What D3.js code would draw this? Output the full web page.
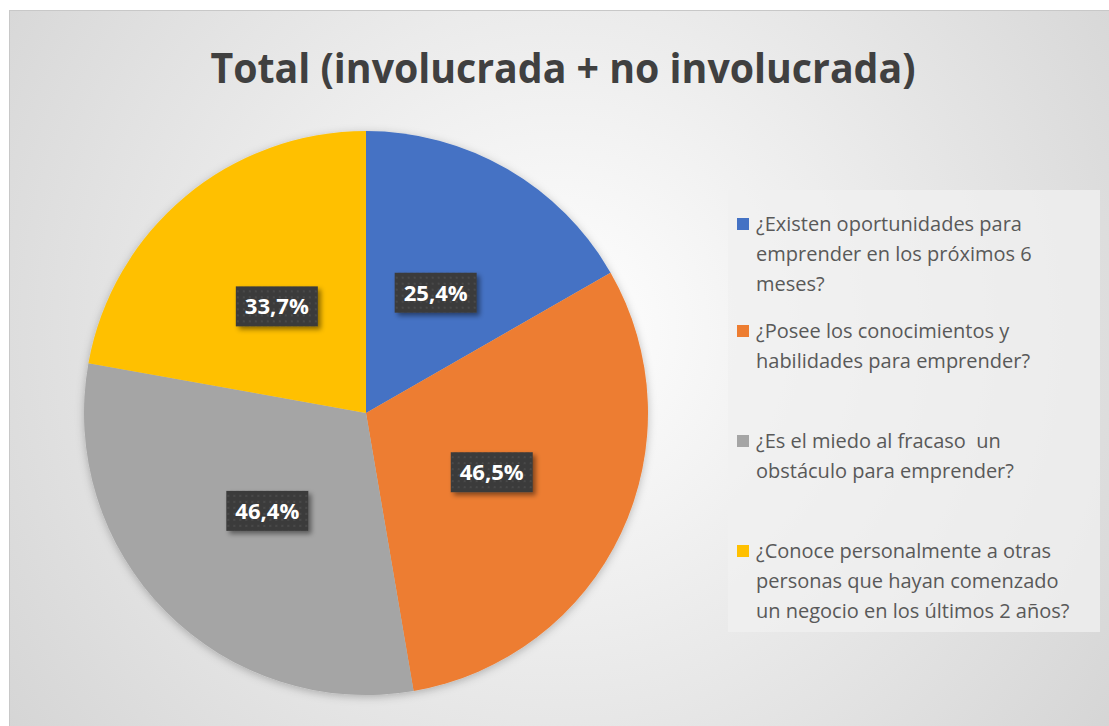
<!DOCTYPE html>
<html>
<head>
<meta charset="utf-8">
<script src="https://cdn.jsdelivr.net/npm/d3@7"></script>
<style>
  body { margin: 0; background: #fff; }
  svg { display: block; }
</style>
</head>
<body>
<svg id="chart" width="1109" height="726"></svg>
<script>
const title = 'Total (involucrada + no involucrada)';
const categories = [
  ['¿Existen oportunidades para', 'emprender en los próximos 6', 'meses?'],
  ['¿Posee los conocimientos y', 'habilidades para emprender?'],
  ['¿Es el miedo al fracaso  un', 'obstáculo para emprender?'],
  ['¿Conoce personalmente a otras', 'personas que hayan comenzado', 'un negocio en los últimos 2 años?']
];
const values = [25.4, 46.5, 46.4, 33.7];
const colors = ['#4472c4', '#ed7d31', '#a5a5a5', '#ffc000'];
const legendTops = [224, 331, 441, 551];

const svg = d3.select('#chart');
const defs = svg.append('defs');

// chart area background
const bg = defs.append('radialGradient').attr('id', 'bg')
  .attr('gradientUnits', 'userSpaceOnUse')
  .attr('cx', 560).attr('cy', 330).attr('r', 700);
bg.append('stop').attr('offset', '0%').attr('stop-color', '#ffffff');
bg.append('stop').attr('offset', '100%').attr('stop-color', '#d4d4d4');

const sh = defs.append('filter').attr('id', 'pieShadow')
  .attr('x', '-10%').attr('y', '-10%').attr('width', '120%').attr('height', '120%');
sh.append('feDropShadow').attr('dx', 0).attr('dy', 2).attr('stdDeviation', 4)
  .attr('flood-color', '#000').attr('flood-opacity', 0.25);

const lsh = defs.append('filter').attr('id', 'labelShadow')
  .attr('x', '-20%').attr('y', '-20%').attr('width', '150%').attr('height', '160%');
lsh.append('feDropShadow').attr('dx', 3).attr('dy', 3).attr('stdDeviation', 2.5)
  .attr('flood-color', '#000').attr('flood-opacity', 0.45);

const dots = defs.append('pattern').attr('id', 'dots')
  .attr('width', 6).attr('height', 6).attr('patternUnits', 'userSpaceOnUse');
dots.append('rect').attr('width', 6).attr('height', 6).attr('fill', '#3b3b3b');
dots.append('circle').attr('cx', 3).attr('cy', 3).attr('r', 0.8).attr('fill', '#5a5a5a');

svg.append('rect')
  .attr('x', 9.5).attr('y', 10.5).attr('width', 1110).attr('height', 720)
  .attr('fill', 'url(#bg)').attr('stroke', '#c8c8c8');

svg.append('text')
  .attr('x', 563).attr('y', 83)
  .attr('text-anchor', 'middle')
  .attr('font-family', 'Open Sans, sans-serif')
  .attr('font-weight', 700)
  .attr('font-size', 42)
  .attr('textLength', 705).attr('lengthAdjust', 'spacingAndGlyphs')
  .attr('fill', '#404040')
  .text(title);

// pie
const cx = 366, cy = 413, radius = 282;
const pie = d3.pie().sort(null).value(d => d);
const arcs = pie(values);
const arc = d3.arc().innerRadius(0).outerRadius(radius);
const labelArc = d3.arc().innerRadius(139).outerRadius(139);

const g = svg.append('g').attr('transform', `translate(${cx},${cy})`);
g.append('g').attr('filter', 'url(#pieShadow)')
  .selectAll('path').data(arcs).join('path')
  .attr('d', arc)
  .attr('fill', (d, i) => colors[i]);

const fmt = v => d3.format('.1f')(v).replace('.', ',') + '%';
const lab = g.selectAll('.lab').data(arcs).join('g')
  .attr('class', 'lab')
  .attr('transform', d => `translate(${labelArc.centroid(d)})`);
lab.append('rect')
  .attr('x', -41).attr('y', -20).attr('width', 82).attr('height', 40)
  .attr('fill', 'url(#dots)')
  .attr('filter', 'url(#labelShadow)');
lab.append('text')
  .attr('text-anchor', 'middle').attr('dy', '0.36em')
  .attr('font-family', 'Open Sans, sans-serif')
  .attr('font-weight', 700).attr('font-size', 22)
  .attr('textLength', 64).attr('lengthAdjust', 'spacingAndGlyphs')
  .attr('fill', '#fff')
  .text(d => fmt(d.data));

// legend
svg.append('rect')
  .attr('x', 728).attr('y', 190).attr('width', 372).attr('height', 442)
  .attr('fill', '#f0f0f0').attr('opacity', 0.75);

const leg = svg.selectAll('.leg').data(categories).join('g')
  .attr('class', 'leg')
  .attr('transform', (d, i) => `translate(737,${legendTops[i]})`);
leg.append('rect')
  .attr('x', 0).attr('y', -6).attr('width', 12).attr('height', 12)
  .attr('fill', (d, i) => colors[i]);
leg.each(function (lines) {
  const t = d3.select(this).append('text')
    .attr('font-family', 'Open Sans, sans-serif')
    .attr('font-size', 20)
    .attr('fill', '#595959');
  lines.forEach((ln, j) => {
    t.append('tspan').attr('x', 19).attr('y', j * 29.8).attr('dy', '0.36em')
      .attr('xml:space', 'preserve')
      .text(ln);
  });
});
</script>
</body>
</html>
